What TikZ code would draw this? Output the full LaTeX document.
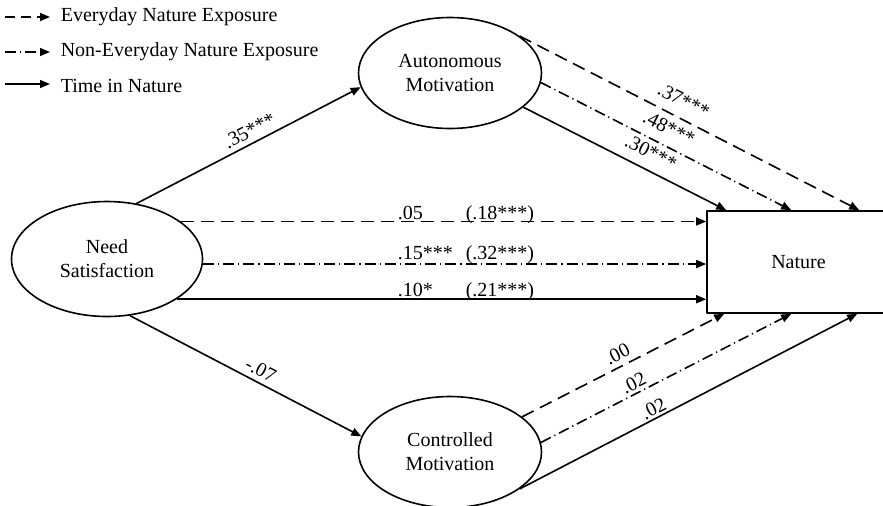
\documentclass[tikz,border=0pt]{standalone}
\usepackage{fontspec}
\setmainfont{Liberation Serif}
\usetikzlibrary{shapes.geometric,arrows.meta}

\begin{document}
\begin{tikzpicture}[x=0.5pt,y=-0.5pt,line width=0.8pt,line join=round,
  latent/.style={ellipse,draw,align=center,inner sep=0pt,minimum width=91.5pt,minimum height=55.5pt},
  tip/.style={-{Triangle[length=5pt,width=4pt]}},
  everyday/.style={tip,dash pattern=on 6.5pt off 3.5pt},
  noneveryday/.style={tip,dash pattern=on 5.5pt off 2pt on 0.6pt off 2pt},
  coef/.style={inner sep=1pt}]
\useasboundingbox (0,0) rectangle (883,505);

% legend
\coordinate (k1) at (5,17);
\coordinate (k2) at (5,52);
\coordinate (k3) at (5,84);
\node[anchor=west,inner sep=0pt] (t1) at (60,17) {Everyday Nature Exposure};
\node[anchor=west,inner sep=0pt] (t2) at (60,52) {Non-Everyday Nature Exposure};
\node[anchor=west,inner sep=0pt] (t3) at (60,86) {Time in Nature};
\draw[tip,dash pattern=on 5pt off 3pt] (k1) -- ([xshift=-5pt]t1.west);
\draw[noneveryday] (k2) -- ([xshift=-5pt]t2.west);
\draw[tip] (k3) -- ([xshift=-5pt,yshift=1pt]t3.west);

% variables
\node[latent,minimum width=95.5pt,minimum height=57.5pt] (need) at (107,259) {Need\\Satisfaction};
\node[latent] (aut) at (450,73) {Autonomous\\Motivation};
\node[latent] (con) at (450,452) {Controlled\\Motivation};
\node[draw,minimum width=91.5pt,minimum height=51pt] (nature) at (798.5,262) {Nature};

% paths from need satisfaction
\draw[tip] (need.62) -- node[coef,sloped,above,pos=.53,inner sep=2.5pt] (c1) {.35***} (aut.189);
\draw[tip] (need.-68) -- node[coef,sloped,above,pos=.54,inner sep=2.5pt] (c2) {-.07} (con.170);
\draw[everyday] (need.27) -- (need.27 -| nature.west);
\draw[noneveryday] (need.-3) -- (need.-3 -| nature.west);
\draw[tip] (need.-30) -- (need.-30 -| nature.west);
\node[coef,anchor=base west] (d1) at (395,219) {.05};
\node[coef,anchor=base west] (d2) at (395,259) {.15***};
\node[coef,anchor=base west] (d3) at (395,296) {.10*};
\node[coef,anchor=base west] (i1) at (463,219) {(.18***)};
\node[coef,anchor=base west] (i2) at (463,259) {(.32***)};
\node[coef,anchor=base west] (i3) at (463,296) {(.21***)};

% paths from the motivations
\draw[everyday] (aut.28) -- node[coef,sloped,above,pos=.46,inner sep=5pt] (a1) {.37***} ([xshift=76.5pt]nature.north west);
\draw[noneveryday] (aut.-6) -- node[coef,sloped,above,pos=.48,inner sep=5pt] (a2) {.48***} ([xshift=42.5pt]nature.north west);
\draw[tip] (aut.-25) -- node[coef,sloped,above,pos=.59,inner sep=5pt] (a3) {.30***} ([xshift=10pt]nature.north west);
\draw[everyday] (con.26) -- node[coef,sloped,above,pos=.5,inner sep=2.5pt] (b1) {.00} ([xshift=9pt]nature.south west);
\draw[noneveryday] (con.6) -- node[coef,sloped,above,pos=.39,inner sep=1.5pt] (b2) {.02} ([xshift=42.5pt]nature.south west);
\draw[tip] (con.-28) -- node[coef,sloped,above,pos=.41,inner sep=1pt] (b3) {.02} ([xshift=75.5pt]nature.south west);
\end{tikzpicture}
\end{document}
